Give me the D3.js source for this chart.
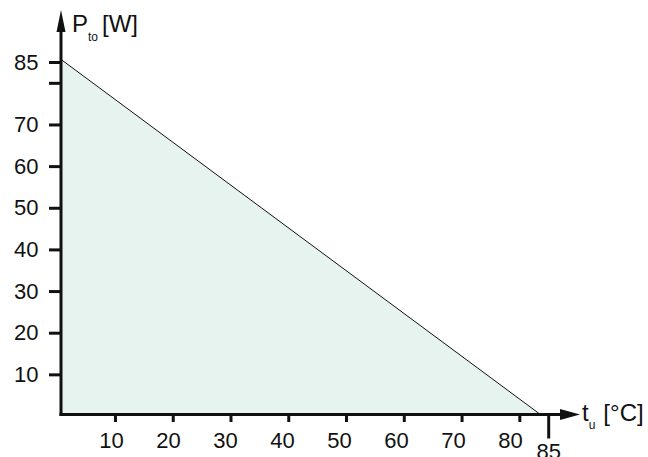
<!DOCTYPE html>
<html>
<head>
<meta charset="utf-8">
<script src="https://cdn.jsdelivr.net/npm/d3@7"></script>
<style>
  body { margin: 0; background: #fff; }
  svg { display: block; font-family: "Liberation Sans", Arial, Helvetica, sans-serif; }
</style>
</head>
<body>
<script>
// derating curve: max power vs ambient temperature
var tempTicks = [10, 20, 30, 40, 50, 60, 70, 80];
var tempEndTick = 85;
var powerTicks = [10, 20, 30, 40, 50, 60, 70, 80, 85];
var powerLabels = [10, 20, 30, 40, 50, 60, 70, 85];
var curveTemp = [0, 84];
var curvePower = [86.3, 0];

var svgWidth = 648;
var svgHeight = 457;
var axisX = 61;      // where the vertical axis is drawn
var axisY = 414.5;   // where the horizontal axis is drawn

var svg = d3.select("body").append("svg")
    .attr("width", svgWidth)
    .attr("height", svgHeight);

var x = d3.scaleLinear().domain([0, 85]).range([57.2, 548.2]);
var xLabel = d3.scaleLinear().domain([0, 85]).range([54, 538.5]);
var y = d3.scaleLinear().domain([0, 85]).range([416, 62]);

var curve = curveTemp.map(function (t, i) { return { t: t, p: curvePower[i] }; });

svg.append("clipPath").attr("id", "plotClip")
    .append("rect")
    .attr("x", axisX).attr("y", 0)
    .attr("width", svgWidth - axisX).attr("height", axisY);

var plot = svg.append("g").attr("clip-path", "url(#plotClip)");

plot.append("path")
    .datum(curve)
    .attr("fill", "#e6f3ee")
    .attr("d", d3.area().x(d => x(d.t)).y0(y(0)).y1(d => y(d.p)));

plot.append("path")
    .datum(curve)
    .attr("fill", "none")
    .attr("stroke", "#111")
    .attr("stroke-width", 1)
    .attr("d", d3.line().x(d => x(d.t)).y(d => y(d.p)));

// y ticks + labels
var yAxis = svg.append("g")
    .attr("transform", "translate(" + axisX + ",0)")
    .call(d3.axisLeft(y).tickValues(powerTicks).tickSize(12).tickPadding(10.5)
        .tickFormat(d => powerLabels.indexOf(d) >= 0 ? d : ""));

// x ticks
var xTicks = svg.append("g")
    .attr("transform", "translate(0," + axisY + ")")
    .call(d3.axisBottom(x).tickValues(tempTicks).tickSize(7.5).tickFormat(""));

var xLabels = svg.append("g")
    .attr("transform", "translate(0," + axisY + ")")
    .call(d3.axisBottom(xLabel).tickValues(tempTicks).tickSize(0).tickPadding(18));

var xEnd = svg.append("g")
    .attr("transform", "translate(0," + axisY + ")")
    .call(d3.axisBottom(x).tickValues([tempEndTick]).tickSize(24).tickPadding(4.5));

[yAxis, xTicks, xLabels, xEnd].forEach(function (g) {
    g.attr("font-family", null).attr("font-size", null);
    g.select(".domain").remove();
    g.selectAll(".tick line").attr("stroke", "#111").attr("stroke-width", 3);
    g.selectAll(".tick text").attr("fill", "#111").style("font-size", "22px");
});

// axis lines with arrows
svg.append("line")
    .attr("x1", axisX).attr("y1", axisY + 1.5)
    .attr("x2", axisX).attr("y2", 28)
    .attr("stroke", "#111").attr("stroke-width", 3);
svg.append("path")
    .attr("d", "M" + axisX + ",10 L" + (axisX - 4.5) + ",32 L" + (axisX + 4.5) + ",32 Z")
    .attr("fill", "#111");

svg.append("line")
    .attr("x1", axisX - 1.5).attr("y1", axisY)
    .attr("x2", 564).attr("y2", axisY)
    .attr("stroke", "#111").attr("stroke-width", 3);
svg.append("path")
    .attr("d", "M580," + axisY + " L560," + (axisY - 5.5) + " L560," + (axisY + 5.5) + " Z")
    .attr("fill", "#111");

// axis titles
var yTitle = svg.append("text")
    .attr("x", 72).attr("y", 32)
    .attr("fill", "#111")
    .style("font-size", "24px");
yTitle.append("tspan").text("P");
yTitle.append("tspan").attr("dy", 9).style("font-size", "12px").text("to");
yTitle.append("tspan").attr("dy", -9).attr("dx", 4).text("[W]");

var xTitle = svg.append("text")
    .attr("x", 582).attr("y", 421)
    .attr("fill", "#111")
    .style("font-size", "24px");
xTitle.append("tspan").text("t");
xTitle.append("tspan").attr("dy", 8).style("font-size", "12px").text("u");
xTitle.append("tspan").attr("dy", -8).attr("dx", 8).text("[°C]");
</script>
</body>
</html>
